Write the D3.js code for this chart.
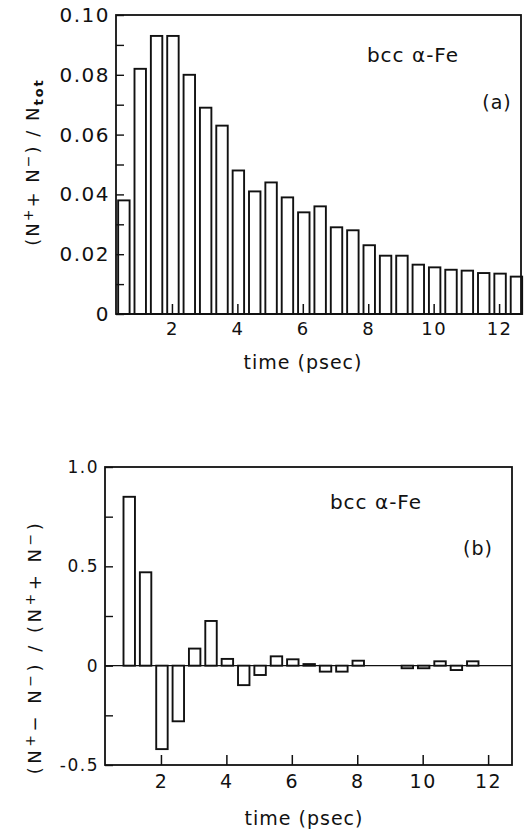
<!DOCTYPE html>
<html>
<head>
<meta charset="utf-8">
<script src="https://cdn.jsdelivr.net/npm/d3@7"></script>
<style>
  body { margin: 0; background: #fff; }
  text { font-family: "DejaVu Sans", sans-serif; fill: #111; }
</style>
</head>
<body>
<svg id="fig" width="524" height="833"></svg>
<script>
// panel (a): (N+ + N-)/Ntot, one bar every 0.5 psec
let timesA = [0.5, 1.0, 1.5, 2.0, 2.5, 3.0, 3.5, 4.0, 4.5, 5.0, 5.5, 6.0, 6.5,
              7.0, 7.5, 8.0, 8.5, 9.0, 9.5, 10.0, 10.5, 11.0, 11.5, 12.0, 12.5];
let fracA = [0.038, 0.082, 0.093, 0.093, 0.080, 0.069, 0.063, 0.048, 0.041, 0.044, 0.039, 0.034, 0.036,
             0.029, 0.028, 0.023, 0.0195, 0.0195, 0.0165, 0.0156, 0.0148, 0.0145, 0.0137, 0.0135, 0.0125];

// panel (b): (N+ - N-)/(N+ + N-)
let timesB = [1.0, 1.5, 2.0, 2.5, 3.0, 3.5, 4.0, 4.5, 5.0, 5.5, 6.0,
              6.5, 7.0, 7.5, 8.0, 8.5, 9.0, 9.5, 10.0, 10.5, 11.0, 11.5];
let asymB = [0.85, 0.47, -0.42, -0.28, 0.086, 0.225, 0.034, -0.098, -0.047, 0.047, 0.032,
             0.008, -0.03, -0.03, 0.025, 0, 0, -0.013, -0.013, 0.022, -0.022, 0.022];

let xTicks = [2, 4, 6, 8, 10, 12];
let yMajorA = [0, 0.02, 0.04, 0.06, 0.08, 0.10];
let yMinorA = [0.01, 0.03, 0.05, 0.07, 0.09];
let yLabelsA = ["0", "0.02", "0.04", "0.06", "0.08", "0.10"];
let yMajorB = [-0.5, 0, 0.5, 1.0];
let yMinorB = [-0.25, 0.25, 0.75];
let yLabelsB = ["-0.5", "0", "0.5", "1.0"];

let svg = d3.select("#fig");

function getConfig(panel) {
  // frame box of each panel, in page pixels
  if (panel == 'a') {
    return {left: 116, right: 521, top: 15, bottom: 314, xDomain: [0.29, 12.67], yDomain: [0, 0.10],
            xFont: 18, yFont: 20, xPad: 8};
  }
  return {left: 105, right: 512, top: 467, bottom: 765, xDomain: [0.29, 12.73], yDomain: [-0.5, 1.0],
          xFont: 19, yFont: 17, xPad: 10};
}

function getScales(config) {
  let xScale = d3.scaleLinear().domain(config.xDomain).range([config.left, config.right]);
  let yScale = d3.scaleLinear().domain(config.yDomain).range([config.bottom, config.top]);
  return {xScale, yScale};
}

function drawPanel(config, scales, times, values, yMajor, yMinor, yLabels) {
  let {xScale, yScale} = scales;
  let g = svg.append("g");
  let bw = xScale(0.35) - xScale(0);
  let y0 = yScale(0);

  // zero line (only matters for panel b)
  g.append("line")
    .attr("x1", config.left).attr("x2", config.right)
    .attr("y1", y0).attr("y2", y0)
    .attr("stroke", "#111").attr("stroke-width", 1.4);

  // bars, white with dark outline
  g.selectAll("rect.bar")
    .data(values.map((v, i) => ({t: times[i], v: v})).filter(d => d.v != 0))
    .enter()
    .append("rect")
      .attr("class", "bar")
      .attr("x", d => xScale(d.t) - bw / 2 + 1)
      .attr("y", d => Math.min(yScale(d.v), y0))
      .attr("width", bw)
      .attr("height", d => Math.max(Math.abs(yScale(d.v) - y0), 1.5))
      .attr("fill", "#fff")
      .attr("stroke", "#111")
      .attr("stroke-width", 1.9);

  // x axis: ticks pointing up, labels below
  let xAxis = g.append("g")
    .attr("transform", "translate(0," + config.bottom + ")")
    .call(d3.axisBottom(xScale).tickValues(xTicks).tickSizeInner(-10).tickSizeOuter(0)
      .tickPadding(config.xPad).tickFormat(d3.format("d")));
  xAxis.select(".domain").remove();
  xAxis.selectAll("line").attr("stroke", "#111").attr("stroke-width", 1.5);
  xAxis.selectAll("text")
    .style("font-size", config.xFont + "px")
    .style("letter-spacing", "1.5px")
    .attr("fill", "#111");

  // y axis: minor ticks, then labelled ticks, all pointing inward
  let yMin = g.append("g")
    .attr("transform", "translate(" + config.left + ",0)")
    .call(d3.axisLeft(yScale).tickValues(yMinor).tickSizeInner(-8).tickSizeOuter(0).tickFormat(""));
  yMin.select(".domain").remove();
  yMin.selectAll("line").attr("stroke", "#111").attr("stroke-width", 1.4);

  let yMaj = g.append("g")
    .attr("transform", "translate(" + config.left + ",0)")
    .call(d3.axisLeft(yScale).tickValues(yMajor).tickSizeInner(-8).tickSizeOuter(0).tickPadding(6)
      .tickFormat((d, i) => yLabels[i]));
  yMaj.select(".domain").remove();
  yMaj.selectAll("line").attr("stroke", "#111").attr("stroke-width", 1.4);
  yMaj.selectAll("text")
    .style("font-size", config.yFont + "px")
    .style("letter-spacing", "1.5px")
    .attr("fill", "#111");

  // frame
  g.append("rect")
    .attr("x", config.left).attr("y", config.top)
    .attr("width", config.right - config.left).attr("height", config.bottom - config.top)
    .attr("fill", "none").attr("stroke", "#111").attr("stroke-width", 1.8);

  return g;
}

function addText(x, y, str, size) {
  return svg.append("text")
    .attr("x", x).attr("y", y)
    .attr("text-anchor", "middle")
    .attr("dominant-baseline", "central")
    .style("font-size", size + "px")
    .style("letter-spacing", "1px")
    .text(str);
}

// rotated y title built from pieces: [text, kind] where kind is "", "sup" or "sub"
function addYTitle(x, y, pieces, spacing) {
  let t = svg.append("text")
    .attr("transform", "translate(" + x + "," + y + ") rotate(-90)")
    .attr("text-anchor", "middle")
    .style("font-size", "18px")
    .style("letter-spacing", spacing + "px");
  pieces.forEach(p => {
    let s = t.append("tspan").text(p[0]);
    if (p[1] == "sup") s.attr("baseline-shift", "45%").style("font-size", "14px");
    if (p[1] == "sub") s.attr("baseline-shift", "-30%").style("font-size", "13px").style("font-weight", "bold");
  });
  return t;
}

// ---- panel (a)
let configA = getConfig('a');
let scalesA = getScales(configA);
drawPanel(configA, scalesA, timesA, fracA, yMajorA, yMinorA, yLabelsA);
addText(413, 55, "bcc  \u03b1-Fe", 20);
addText(497, 102, "(a)", 19);
addText(303, 362, "time (psec)", 19);
addYTitle(39, 162, [["(N", ""], ["+", "sup"], ["+ N", ""], ["\u2212", "sup"], [") / N", ""], ["tot", "sub"]], 2);

// ---- panel (b)
let configB = getConfig('b');
let scalesB = getScales(configB);
drawPanel(configB, scalesB, timesB, asymB, yMajorB, yMinorB, yLabelsB);
addText(376, 502, "bcc  \u03b1-Fe", 20);
addText(478, 548, "(b)", 19);
addText(304, 818, "time (psec)", 19);
addYTitle(41, 647, [["(N", ""], ["+", "sup"], ["\u2212 N", ""], ["\u2212", "sup"], [") / (N", ""],
                    ["+", "sup"], ["+ N", ""], ["\u2212", "sup"], [")", ""]], 3.5);
</script>
</body>
</html>
